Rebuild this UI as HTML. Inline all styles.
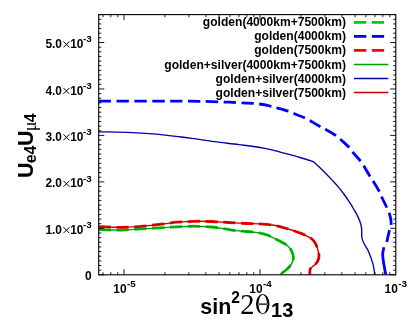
<!DOCTYPE html>
<html><head><meta charset="utf-8"><title>plot</title>
<style>
html,body{margin:0;padding:0;background:#fff;}
body{width:409px;height:326px;overflow:hidden;}
svg{display:block;}
text{font-family:"Liberation Sans",sans-serif;font-weight:bold;fill:#000;}
.r{font-weight:normal;}
.s{font-family:"Liberation Serif",serif;font-weight:normal;}
</style></head><body>
<svg width="409" height="326" viewBox="0 0 409 326">
<rect x="0" y="0" width="409" height="326" fill="#fff"/>
<filter id="b" x="0" y="0" width="409" height="326" filterUnits="userSpaceOnUse"><feGaussianBlur stdDeviation="0.35"/></filter>
<g filter="url(#b)">
<defs><clipPath id="c"><rect x="98.7" y="14.6" width="297.1" height="260.2"/></clipPath></defs>
<g clip-path="url(#c)" fill="none" stroke-linejoin="round">
<path d="M98.7 101.2 C107.2 101.2 134.8 101.2 150.0 101.2 C165.2 101.2 179.8 101.1 190.0 101.2 C200.2 101.3 204.4 101.4 211.0 101.6 C217.6 101.8 223.4 102.0 229.5 102.2 C235.6 102.5 242.6 102.8 247.6 103.1 C252.6 103.4 255.7 103.5 259.4 104.0 C263.1 104.5 267.1 105.3 270.0 106.0 C272.9 106.7 273.9 107.0 277.0 107.9 C280.1 108.8 285.6 110.3 288.4 111.2 C291.2 112.1 290.8 112.3 293.6 113.4 C296.4 114.5 302.3 116.8 305.0 118.0 C307.7 119.2 307.0 118.9 309.6 120.4 C312.2 121.9 317.9 125.3 320.6 126.8 C323.3 128.3 323.3 128.0 325.8 129.4 C328.3 130.8 333.4 133.9 335.8 135.5 C338.2 137.1 338.0 137.2 340.2 139.2 C342.4 141.2 347.1 145.2 349.1 147.3 C351.2 149.4 350.6 149.6 352.5 151.9 C354.4 154.2 358.7 158.8 360.6 161.1 C362.5 163.4 362.2 163.2 363.7 165.7 C365.2 168.2 368.2 173.5 369.8 176.0 C371.4 178.5 371.4 178.3 373.0 180.8 C374.6 183.3 377.7 188.5 379.1 191.1 C380.5 193.7 380.1 193.8 381.4 196.5 C382.7 199.2 385.5 204.8 386.8 207.5 C388.1 210.2 388.4 210.5 389.1 212.6 C389.8 214.7 390.6 217.9 390.9 220.0 C391.2 222.1 391.2 223.3 391.0 225.0 C390.8 226.7 390.2 227.2 389.5 230.1 C388.8 232.9 387.2 240.1 386.8 242.1" stroke="#0000ff" stroke-width="2.8" stroke-dasharray="12.3 5.54"/>
<path d="M384.0 247.2 C383.8 248.3 382.8 251.5 382.7 254.0 C382.6 256.5 383.0 258.5 383.5 262.0 C384.0 265.5 385.4 272.7 385.8 274.8" stroke="#0000ff" stroke-width="2.8"/>
<path d="M98.7 131.8 C103.4 131.9 117.3 131.9 126.9 132.3 C136.5 132.7 148.1 133.5 156.3 134.2 C164.5 134.9 170.0 135.7 175.9 136.4 C181.8 137.1 185.6 137.4 192.0 138.3 C198.4 139.2 206.7 140.6 214.5 141.7 C222.3 142.8 230.8 143.5 239.0 144.6 C247.2 145.7 255.8 146.7 263.5 148.2 C271.2 149.7 278.9 151.8 285.0 153.4 C291.1 155.0 295.3 156.1 300.0 157.5 C304.7 158.9 311.1 160.9 313.3 161.6 L313.3 161.6 C314.4 162.6 317.8 165.6 320.0 167.7 C322.2 169.8 324.6 172.2 326.8 174.4 C329.0 176.6 330.9 178.8 333.0 181.0 C335.1 183.2 337.2 185.7 339.1 187.9 C341.0 190.2 342.6 192.3 344.2 194.5 C345.8 196.7 347.5 199.1 348.9 201.3 C350.3 203.5 351.6 205.4 352.8 207.5 C354.0 209.6 355.2 211.4 356.3 213.6 C357.4 215.8 358.7 218.2 359.6 220.5 C360.5 222.8 361.1 224.8 361.5 227.6 C361.9 230.4 361.5 234.8 361.9 237.5 C362.3 240.2 362.9 241.2 364.0 243.5 C365.1 245.8 366.9 247.9 368.4 251.3 C369.9 254.7 371.9 260.2 373.0 264.1 C374.1 268.0 374.5 273.0 374.8 274.8" stroke="#0000a8" stroke-width="1.35"/>
<path d="M98.7 229.7 C100.8 229.8 107.0 229.9 111.0 230.0 C115.0 230.1 117.4 230.2 122.4 230.0 C127.4 229.8 134.3 229.3 141.2 228.9 C148.0 228.5 157.5 228.0 163.5 227.7 C169.5 227.3 172.0 227.1 177.1 226.8 C182.2 226.6 188.5 226.2 194.2 226.2 C199.9 226.2 206.3 226.6 211.4 227.0 C216.5 227.4 220.9 228.3 225.0 228.9 C229.1 229.5 232.1 230.3 235.7 230.7 C239.3 231.1 242.9 231.2 246.5 231.5 C250.1 231.8 253.6 232.1 257.2 232.7 C260.8 233.3 264.3 234.0 267.9 235.3 C271.5 236.6 275.4 238.8 278.6 240.5 C281.8 242.2 285.1 243.7 287.2 245.4 C289.3 247.1 290.5 248.8 291.5 250.8 C292.5 252.8 293.4 255.0 293.4 257.2 C293.4 259.4 292.6 261.8 291.5 263.8 C290.4 265.8 289.0 267.4 287.0 269.2 C285.0 271.0 280.9 273.9 279.7 274.8" stroke="#00cc00" stroke-width="2.8" stroke-dasharray="12.3 5.54"/>
<path d="M98.7 226.7 C100.8 226.8 107.0 227.0 111.0 227.1 C115.0 227.2 117.4 227.4 122.4 227.3 C127.4 227.2 134.3 227.0 141.2 226.4 C148.0 225.8 157.5 224.6 163.5 223.9 C169.5 223.2 172.0 222.6 177.1 222.2 C182.2 221.8 188.5 221.4 194.2 221.3 C199.9 221.2 205.7 221.3 211.4 221.5 C217.1 221.7 222.7 222.2 228.5 222.5 C234.3 222.8 241.4 223.3 246.5 223.5 C251.6 223.7 255.0 223.6 259.3 223.8 C263.6 224.1 268.6 224.5 272.2 225.0 C275.8 225.5 277.5 226.0 280.7 226.8 C283.9 227.6 287.9 228.8 291.5 230.0 C295.1 231.2 299.0 232.5 302.2 233.9 C305.4 235.3 308.6 236.7 310.8 238.2 C313.0 239.7 314.0 241.0 315.1 242.9 C316.2 244.8 317.1 247.2 317.7 249.4 C318.3 251.6 319.0 253.8 319.0 255.8 C319.0 257.8 318.5 259.6 317.7 261.2 C316.9 262.8 315.2 264.2 314.0 265.5 C312.8 266.8 311.1 267.1 310.4 268.7 C309.7 270.2 309.8 273.8 309.7 274.8" stroke="#ff0000" stroke-width="2.8" stroke-dasharray="12.3 5.54"/>
<path d="M98.7 229.7 C100.8 229.8 107.0 229.9 111.0 230.0 C115.0 230.1 117.4 230.2 122.4 230.0 C127.4 229.8 134.3 229.3 141.2 228.9 C148.0 228.5 157.5 228.0 163.5 227.7 C169.5 227.3 172.0 227.1 177.1 226.8 C182.2 226.6 188.5 226.2 194.2 226.2 C199.9 226.2 206.3 226.6 211.4 227.0 C216.5 227.4 220.9 228.3 225.0 228.9 C229.1 229.5 232.1 230.3 235.7 230.7 C239.3 231.1 242.9 231.2 246.5 231.5 C250.1 231.8 253.6 232.1 257.2 232.7 C260.8 233.3 264.3 234.0 267.9 235.3 C271.5 236.6 275.4 238.8 278.6 240.5 C281.8 242.2 285.1 243.7 287.2 245.4 C289.3 247.1 290.5 248.8 291.5 250.8 C292.5 252.8 293.4 255.0 293.4 257.2 C293.4 259.4 292.6 261.8 291.5 263.8 C290.4 265.8 289.0 267.4 287.0 269.2 C285.0 271.0 280.9 273.9 279.7 274.8" stroke="#00a000" stroke-width="1.35"/>
<path d="M98.7 226.7 C100.8 226.8 107.0 227.0 111.0 227.1 C115.0 227.2 117.4 227.4 122.4 227.3 C127.4 227.2 134.3 227.0 141.2 226.4 C148.0 225.8 157.5 224.6 163.5 223.9 C169.5 223.2 172.0 222.6 177.1 222.2 C182.2 221.8 188.5 221.4 194.2 221.3 C199.9 221.2 205.7 221.3 211.4 221.5 C217.1 221.7 222.7 222.2 228.5 222.5 C234.3 222.8 241.4 223.3 246.5 223.5 C251.6 223.7 255.0 223.6 259.3 223.8 C263.6 224.1 268.6 224.5 272.2 225.0 C275.8 225.5 277.5 226.0 280.7 226.8 C283.9 227.6 287.9 228.8 291.5 230.0 C295.1 231.2 299.0 232.5 302.2 233.9 C305.4 235.3 308.6 236.7 310.8 238.2 C313.0 239.7 314.0 241.0 315.1 242.9 C316.2 244.8 317.1 247.2 317.7 249.4 C318.3 251.6 319.0 253.8 319.0 255.8 C319.0 257.8 318.5 259.6 317.7 261.2 C316.9 262.8 315.2 264.2 314.0 265.5 C312.8 266.8 311.1 267.1 310.4 268.7 C309.7 270.2 309.8 273.8 309.7 274.8" stroke="#c00000" stroke-width="1.35"/>
</g>
<text x="346" y="26.3" font-size="12.07" text-anchor="end">golden(4000km+7500km)</text>
<line x1="354" y1="22.3" x2="388.3" y2="22.3" stroke="#00cc00" stroke-width="2.8" stroke-dasharray="12.3 5.54"/>
<text x="346" y="40.4" font-size="12.07" text-anchor="end">golden(4000km)</text>
<line x1="354" y1="36.4" x2="388.3" y2="36.4" stroke="#0000ff" stroke-width="2.8" stroke-dasharray="12.3 5.54"/>
<text x="346" y="54.4" font-size="12.07" text-anchor="end">golden(7500km)</text>
<line x1="354" y1="50.4" x2="388.3" y2="50.4" stroke="#ff0000" stroke-width="2.8" stroke-dasharray="12.3 5.54"/>
<text x="346" y="68.5" font-size="12.07" text-anchor="end">golden+silver(4000km+7500km)</text>
<line x1="354" y1="64.5" x2="388.3" y2="64.5" stroke="#00a000" stroke-width="1.35"/>
<text x="346" y="82.5" font-size="12.07" text-anchor="end">golden+silver(4000km)</text>
<line x1="354" y1="78.5" x2="388.3" y2="78.5" stroke="#0000a8" stroke-width="1.35"/>
<text x="346" y="96.5" font-size="12.07" text-anchor="end">golden+silver(7500km)</text>
<line x1="354" y1="92.5" x2="388.3" y2="92.5" stroke="#c00000" stroke-width="1.35"/>
<path d="M98.7 274.80 h5.6 M395.8 274.80 h-5.6 M98.7 270.15 h2.6 M395.8 270.15 h-2.6 M98.7 265.51 h2.6 M395.8 265.51 h-2.6 M98.7 260.86 h2.6 M395.8 260.86 h-2.6 M98.7 256.22 h2.6 M395.8 256.22 h-2.6 M98.7 251.57 h2.6 M395.8 251.57 h-2.6 M98.7 246.92 h2.6 M395.8 246.92 h-2.6 M98.7 242.28 h2.6 M395.8 242.28 h-2.6 M98.7 237.63 h2.6 M395.8 237.63 h-2.6 M98.7 232.99 h2.6 M395.8 232.99 h-2.6 M98.7 228.34 h5.6 M395.8 228.34 h-5.6 M98.7 223.69 h2.6 M395.8 223.69 h-2.6 M98.7 219.05 h2.6 M395.8 219.05 h-2.6 M98.7 214.40 h2.6 M395.8 214.40 h-2.6 M98.7 209.76 h2.6 M395.8 209.76 h-2.6 M98.7 205.11 h2.6 M395.8 205.11 h-2.6 M98.7 200.46 h2.6 M395.8 200.46 h-2.6 M98.7 195.82 h2.6 M395.8 195.82 h-2.6 M98.7 191.17 h2.6 M395.8 191.17 h-2.6 M98.7 186.53 h2.6 M395.8 186.53 h-2.6 M98.7 181.88 h5.6 M395.8 181.88 h-5.6 M98.7 177.23 h2.6 M395.8 177.23 h-2.6 M98.7 172.59 h2.6 M395.8 172.59 h-2.6 M98.7 167.94 h2.6 M395.8 167.94 h-2.6 M98.7 163.30 h2.6 M395.8 163.30 h-2.6 M98.7 158.65 h2.6 M395.8 158.65 h-2.6 M98.7 154.00 h2.6 M395.8 154.00 h-2.6 M98.7 149.36 h2.6 M395.8 149.36 h-2.6 M98.7 144.71 h2.6 M395.8 144.71 h-2.6 M98.7 140.07 h2.6 M395.8 140.07 h-2.6 M98.7 135.42 h5.6 M395.8 135.42 h-5.6 M98.7 130.77 h2.6 M395.8 130.77 h-2.6 M98.7 126.13 h2.6 M395.8 126.13 h-2.6 M98.7 121.48 h2.6 M395.8 121.48 h-2.6 M98.7 116.84 h2.6 M395.8 116.84 h-2.6 M98.7 112.19 h2.6 M395.8 112.19 h-2.6 M98.7 107.54 h2.6 M395.8 107.54 h-2.6 M98.7 102.90 h2.6 M395.8 102.90 h-2.6 M98.7 98.25 h2.6 M395.8 98.25 h-2.6 M98.7 93.61 h2.6 M395.8 93.61 h-2.6 M98.7 88.96 h5.6 M395.8 88.96 h-5.6 M98.7 84.31 h2.6 M395.8 84.31 h-2.6 M98.7 79.67 h2.6 M395.8 79.67 h-2.6 M98.7 75.02 h2.6 M395.8 75.02 h-2.6 M98.7 70.38 h2.6 M395.8 70.38 h-2.6 M98.7 65.73 h2.6 M395.8 65.73 h-2.6 M98.7 61.08 h2.6 M395.8 61.08 h-2.6 M98.7 56.44 h2.6 M395.8 56.44 h-2.6 M98.7 51.79 h2.6 M395.8 51.79 h-2.6 M98.7 47.15 h2.6 M395.8 47.15 h-2.6 M98.7 42.50 h5.6 M395.8 42.50 h-5.6 M98.7 37.85 h2.6 M395.8 37.85 h-2.6 M98.7 33.21 h2.6 M395.8 33.21 h-2.6 M98.7 28.56 h2.6 M395.8 28.56 h-2.6 M98.7 23.92 h2.6 M395.8 23.92 h-2.6 M98.7 19.27 h2.6 M395.8 19.27 h-2.6 M98.7 14.62 h2.6 M395.8 14.62 h-2.6 M102.93 274.8 v-2.6 M102.93 14.6 v2.6 M110.82 274.8 v-2.6 M110.82 14.6 v2.6 M117.78 274.8 v-2.6 M117.78 14.6 v2.6 M124.00 274.8 v-5.6 M124.00 14.6 v5.6 M164.94 274.8 v-2.6 M164.94 14.6 v2.6 M188.89 274.8 v-2.6 M188.89 14.6 v2.6 M205.88 274.8 v-2.6 M205.88 14.6 v2.6 M219.06 274.8 v-2.6 M219.06 14.6 v2.6 M229.83 274.8 v-2.6 M229.83 14.6 v2.6 M238.93 274.8 v-2.6 M238.93 14.6 v2.6 M246.82 274.8 v-2.6 M246.82 14.6 v2.6 M253.78 274.8 v-2.6 M253.78 14.6 v2.6 M260.00 274.8 v-5.6 M260.00 14.6 v5.6 M300.94 274.8 v-2.6 M300.94 14.6 v2.6 M324.89 274.8 v-2.6 M324.89 14.6 v2.6 M341.88 274.8 v-2.6 M341.88 14.6 v2.6 M355.06 274.8 v-2.6 M355.06 14.6 v2.6 M365.83 274.8 v-2.6 M365.83 14.6 v2.6 M374.93 274.8 v-2.6 M374.93 14.6 v2.6 M382.82 274.8 v-2.6 M382.82 14.6 v2.6 M389.78 274.8 v-2.6 M389.78 14.6 v2.6" stroke="#000" stroke-width="0.9" fill="none"/>
<rect x="98.7" y="14.6" width="297.1" height="260.2" fill="none" stroke="#000" stroke-width="1.1"/>
<text x="45.4" y="233.8" font-size="11.9">1.0</text>
<path d="M63.4 227.2 l6 6 M69.4 227.2 l-6 6" stroke="#000" stroke-width="1" fill="none"/>
<text x="70.2" y="233.8" font-size="11.9">10</text>
<text x="82.9" y="227.9" font-size="9.8">-3</text>
<text x="45.4" y="187.4" font-size="11.9">2.0</text>
<path d="M63.4 180.8 l6 6 M69.4 180.8 l-6 6" stroke="#000" stroke-width="1" fill="none"/>
<text x="70.2" y="187.4" font-size="11.9">10</text>
<text x="82.9" y="181.5" font-size="9.8">-3</text>
<text x="45.4" y="140.9" font-size="11.9">3.0</text>
<path d="M63.4 134.3 l6 6 M69.4 134.3 l-6 6" stroke="#000" stroke-width="1" fill="none"/>
<text x="70.2" y="140.9" font-size="11.9">10</text>
<text x="82.9" y="135.0" font-size="9.8">-3</text>
<text x="45.4" y="94.5" font-size="11.9">4.0</text>
<path d="M63.4 87.9 l6 6 M69.4 87.9 l-6 6" stroke="#000" stroke-width="1" fill="none"/>
<text x="70.2" y="94.5" font-size="11.9">10</text>
<text x="82.9" y="88.6" font-size="9.8">-3</text>
<text x="45.4" y="48.0" font-size="11.9">5.0</text>
<path d="M63.4 41.4 l6 6 M69.4 41.4 l-6 6" stroke="#000" stroke-width="1" fill="none"/>
<text x="70.2" y="48.0" font-size="11.9">10</text>
<text x="82.9" y="42.1" font-size="9.8">-3</text>
<text x="91.5" y="279.6" font-size="11.9" text-anchor="end">0</text>
<text x="124.6" y="292.9" font-size="11.9" text-anchor="middle">10<tspan font-size="9.8" dy="-6" dx="0.5">-5</tspan></text>
<text x="260.6" y="292.9" font-size="11.9" text-anchor="middle">10<tspan font-size="9.8" dy="-6" dx="0.5">-4</tspan></text>
<text x="395.8" y="292.9" font-size="11.9" text-anchor="middle">10<tspan font-size="9.8" dy="-6" dx="0.5">-3</tspan></text>
<text x="200.3" y="313.9" font-size="21.5">sin</text>
<text x="231.3" y="302.9" font-size="15.6">2</text>
<text x="240.2" y="313.5" font-size="28.5" class="s">2</text>
<path fill-rule="evenodd" d="M256.0 304.1 a6.75 10.1 0 1 0 13.5 0 a6.75 10.1 0 1 0 -13.5 0 Z M258.6 304.1 a4.15 9.3 0 1 1 8.3 0 a4.15 9.3 0 1 1 -8.3 0 Z M257.8 303.5 h9.9 v1.3 h-9.9 Z" fill="#000"/>
<text x="271.1" y="317.1" font-size="20">13</text>
<g transform="translate(32.5,178.3) rotate(-90)">
<text x="0.2" y="0" font-size="21.5">U</text>
<text x="15.0" y="3.4" font-size="16">e4</text>
<text x="32.3" y="0" font-size="21.5">U</text>
<text x="47.0" y="3.2" font-size="18.5" class="s">μ</text>
<text x="56.0" y="3.4" font-size="16">4</text>
</g>
</g>
</svg></body></html>
